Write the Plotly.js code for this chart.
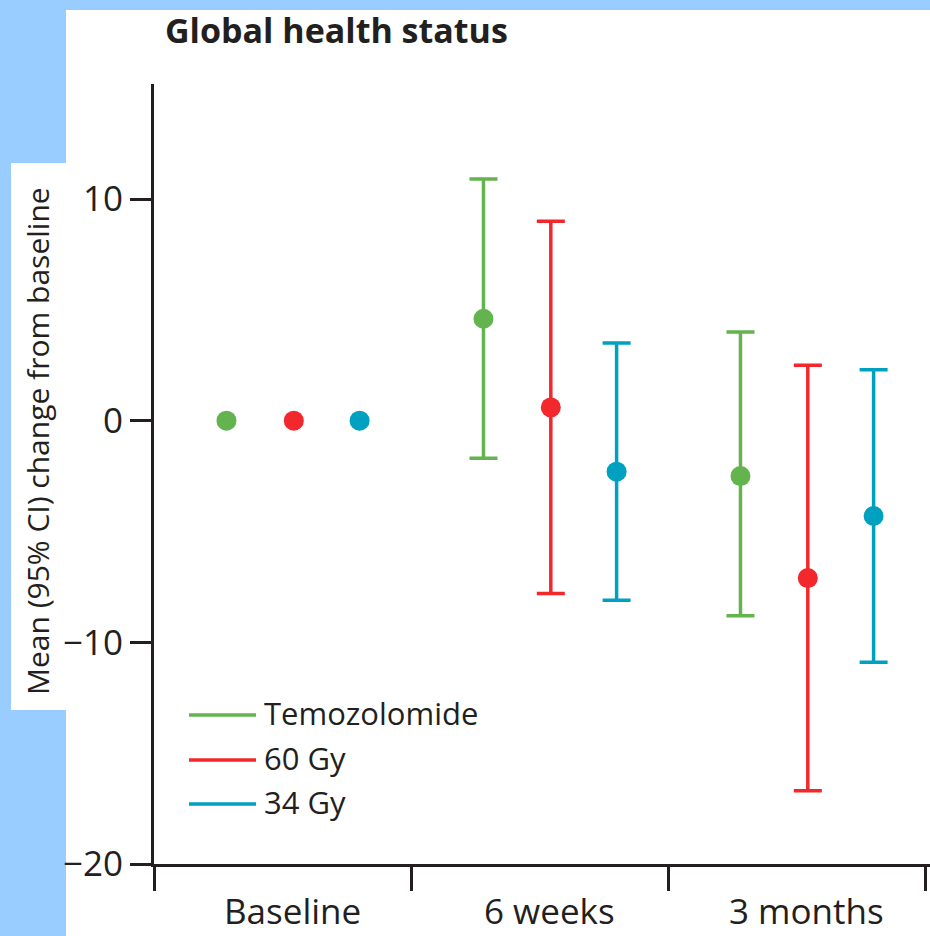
<!DOCTYPE html>
<html>
<head>
<meta charset="utf-8">
<script src="https://cdn.plot.ly/plotly-3.0.1.min.js"></script>
<style>
  html, body { margin: 0; padding: 0; background: #ffffff; }
  #chart { width: 930px; height: 936px; }
</style>
</head>
<body>
<div id="chart"></div>
<script>
// ---- data ----
const categories = ['Baseline', '6 weeks', '3 months'];
const seriesNames = ['Temozolomide', '60 Gy', '34 Gy'];

const temozolomideMean  = [0, 4.6, -2.5];
const temozolomideLower = [null, -1.7, -8.8];
const temozolomideUpper = [null, 10.9, 4.0];

const gy60Mean  = [0, 0.6, -7.1];
const gy60Lower = [null, -7.8, -16.7];
const gy60Upper = [null, 9.0, 2.5];

const gy34Mean  = [0, -2.3, -4.3];
const gy34Lower = [null, -8.1, -10.9];
const gy34Upper = [null, 3.5, 2.3];

const yTickVals = [-20, -10, 0, 10];

// ---- styling ----
const colors = ['#63b34f', '#f2282d', '#00a0c1'];
const offsets = [0.282, 0.544, 0.800];   // position of each series inside its category band
const labelOffset = 0.54;
const ink = '#231f20';
const FONT = '"Open Sans", "Noto Sans", sans-serif';

const W = 930, H = 936;
const L = 154, R = 930, T = 84, B = 864;
const xp = px => (px - L) / (R - L);
const yp = py => (B - py) / (B - T);

const means = [temozolomideMean, gy60Mean, gy34Mean];
const lowers = [temozolomideLower, gy60Lower, gy34Lower];
const uppers = [temozolomideUpper, gy60Upper, gy34Upper];

const traces = seriesNames.map((name, s) => {
  const m = means[s];
  return {
    type: 'scatter',
    mode: 'markers',
    name: name,
    showlegend: false,
    x: categories.map((c, i) => i + offsets[s]),
    y: m,
    marker: { color: colors[s], size: 20, line: { width: 0 } },
    error_y: {
      type: 'data',
      symmetric: false,
      array: m.map((v, i) => uppers[s][i] == null ? NaN : uppers[s][i] - v),
      arrayminus: m.map((v, i) => lowers[s][i] == null ? NaN : v - lowers[s][i]),
      color: colors[s],
      thickness: 3.5,
      width: 14
    },
    hoverinfo: 'x+y'
  };
});

const bg = '#99ccff';
const shapes = [
  { x0: xp(0), x1: xp(930), y0: yp(10), y1: yp(0) },
  { x0: xp(0), x1: xp(66), y0: yp(163), y1: yp(10) },
  { x0: xp(0), x1: xp(11), y0: yp(710), y1: yp(163) },
  { x0: xp(0), x1: xp(66), y0: yp(936), y1: yp(710) }
].map(r => Object.assign({ type: 'rect', xref: 'paper', yref: 'paper', layer: 'below',
  fillcolor: bg, line: { width: 0 } }, r));

// legend lines
const legendY = [715, 760, 804];
seriesNames.forEach((n, s) => {
  shapes.push({ type: 'line', xref: 'paper', yref: 'paper',
    x0: xp(189), x1: xp(256), y0: yp(legendY[s]), y1: yp(legendY[s]),
    line: { color: colors[s], width: 3.5 } });
});

const annotations = [];
// legend text
seriesNames.forEach((n, s) => {
  annotations.push({ xref: 'paper', yref: 'paper', x: xp(262), y: yp(legendY[s] - 2),
    xanchor: 'left', yanchor: 'middle', text: n, showarrow: false,
    font: { family: FONT, size: 31, color: ink } });
});
// category labels
categories.forEach((c, i) => {
  annotations.push({ xref: 'x', yref: 'paper', x: i + labelOffset, y: yp(910),
    xanchor: 'center', yanchor: 'middle', text: c, showarrow: false,
    font: { family: FONT, size: 35, color: ink } });
});
// y axis title
annotations.push({ xref: 'paper', yref: 'paper', x: xp(37), y: yp(441),
  xanchor: 'center', yanchor: 'middle', textangle: -90,
  text: 'Mean (95% CI) change from baseline', showarrow: false,
  font: { family: FONT, size: 30, color: ink } });

const layout = {
  width: W, height: H,
  margin: { l: L, r: W - R, t: T, b: H - B, pad: 0 },
  paper_bgcolor: '#ffffff',
  plot_bgcolor: '#ffffff',
  showlegend: false,
  title: {
    text: 'Global health status',
    xref: 'container', yref: 'container',
    x: 165 / W, xanchor: 'left',
    y: 1 - 31 / H, yanchor: 'middle',
    font: { family: FONT, size: 34, weight: 700, color: ink }
  },
  xaxis: {
    range: [0, (R - L) / 257],
    tickvals: [0, 1, 2, 3],
    ticktext: ['', '', '', ''],
    ticks: 'outside', ticklen: 24, tickwidth: 3, tickcolor: ink,
    showline: true, linewidth: 3, linecolor: ink,
    showgrid: false, zeroline: false, fixedrange: true
  },
  yaxis: {
    range: [-20, 15.19],
    tickvals: yTickVals,
    ticks: 'outside', ticklen: 21, tickwidth: 3, tickcolor: ink,
    tickfont: { family: FONT, size: 35, color: ink },
    showline: true, linewidth: 3, linecolor: ink,
    showgrid: false, zeroline: false, fixedrange: true
  },
  shapes: shapes,
  annotations: annotations
};

Plotly.newPlot('chart', traces, layout, { displayModeBar: false, staticPlot: true });
</script>
</body>
</html>
